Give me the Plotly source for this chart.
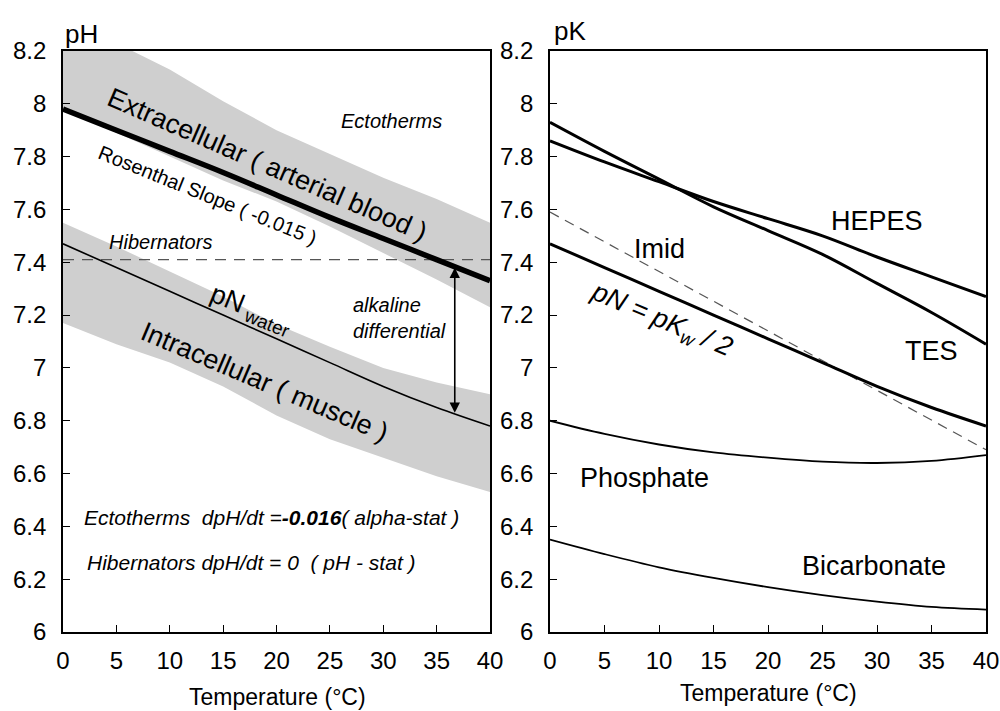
import plotly.graph_objects as go

# ---------------- data ----------------
temp = [0, 5, 10, 15, 20, 25, 30, 35, 40]

# left panel (pH)
extra_upper = [8.34, 8.23, 8.13, 8.01, 7.90, 7.81, 7.72, 7.64, 7.55]
extra_lower = [7.98, 7.89, 7.80, 7.71, 7.63, 7.535, 7.435, 7.335, 7.23]
rosenthal = [7.98, 7.90, 7.82, 7.74, 7.655, 7.57, 7.49, 7.41, 7.33]
intra_upper = [7.55, 7.46, 7.365, 7.27, 7.165, 7.08, 7.00, 6.945, 6.90]
intra_lower = [7.17, 7.09, 7.02, 6.93, 6.82, 6.73, 6.66, 6.59, 6.53]
pn_water = [7.47, 7.38, 7.29, 7.20, 7.11, 7.02, 6.93, 6.85, 6.78]
hib_x = [0, 40]
hib_ph = [7.41, 7.41]
arrow_t = 36.7
arrow_top = 7.385
arrow_bottom = 6.83

# right panel (pK)
hepes = [7.86, 7.78, 7.705, 7.63, 7.565, 7.50, 7.42, 7.345, 7.27]
tes = [7.93, 7.82, 7.715, 7.61, 7.52, 7.43, 7.32, 7.21, 7.09]
imid_x = [0, 40]
imid = [7.59, 6.69]
pn_kw = [7.47, 7.38, 7.29, 7.20, 7.11, 7.02, 6.93, 6.85, 6.78]
phosphate = [6.80, 6.75, 6.71, 6.68, 6.66, 6.645, 6.64, 6.648, 6.67]
bicarbonate = [6.35, 6.295, 6.245, 6.205, 6.17, 6.14, 6.115, 6.095, 6.085]

x_ticks = [0, 5, 10, 15, 20, 25, 30, 35, 40]
x_tick_text = ["0", "5", "10", "15", "20", "25", "30", "35", "40"]
y_ticks = [6, 6.2, 6.4, 6.6, 6.8, 7, 7.2, 7.4, 7.6, 7.8, 8, 8.2]
y_tick_text = ["6", "6.2", "6.4", "6.6", "6.8", "7", "7.2", "7.4", "7.6", "7.8", "8", "8.2"]

FONT = "Liberation Sans, Arial, Helvetica, sans-serif"
BAND = "#cfcfcf"

fig = go.Figure()

def band(upper, lower, xa, ya):
    fig.add_trace(go.Scatter(
        x=temp + temp[::-1], y=upper + lower[::-1], fill="toself",
        fillcolor=BAND, line=dict(width=0), mode="lines",
        xaxis=xa, yaxis=ya, hoverinfo="skip"))

def line(x, y, xa, ya, width, color="black", dash="solid", shape="spline"):
    fig.add_trace(go.Scatter(
        x=x, y=y, mode="lines", line=dict(color=color, width=width, dash=dash, shape=shape),
        xaxis=xa, yaxis=ya, hoverinfo="skip"))

# left panel
band(extra_upper, extra_lower, "x", "y")
band(intra_upper, intra_lower, "x", "y")
line(hib_x, hib_ph, "x", "y", 1.2, color="#555555", dash="11px,8px", shape="linear")
line(temp, rosenthal, "x", "y", 5.5)
line(temp, pn_water, "x", "y", 1.6)

# right panel
line(imid_x, imid, "x2", "y2", 1.2, color="#555555", dash="10px,7px", shape="linear")
line(temp, hepes, "x2", "y2", 3)
line(temp, tes, "x2", "y2", 3)
line(temp, pn_kw, "x2", "y2", 3)
line(temp, phosphate, "x2", "y2", 1.8)
line(temp, bicarbonate, "x2", "y2", 1.8)

ann = []

def text(t, x, y, size, xref="x", yref="y", angle=0, xanchor="center", align="center"):
    ann.append(dict(text=t, x=x, y=y, xref=xref, yref=yref, showarrow=False,
                    textangle=angle, xanchor=xanchor, yanchor="middle", align=align,
                    font=dict(family=FONT, size=size, color="black")))

# left labels
text("Extracellular ( arterial blood )", 19.2, 7.77, 27, angle=23.5)
text("Rosenthal Slope ( -0.015 )", 13.5, 7.655, 20, angle=22)
text("<i>Ectotherms</i>", 30.8, 7.934, 20)
text("<i>Hibernators</i>", 9.1, 7.475, 20)
text("pN<sub> water</sub>", 17.6, 7.22, 27, angle=22)
text("Intracellular ( muscle )", 18.9, 6.948, 27, angle=23)
text("<i>alkaline<br>differential</i>", 27.0, 7.19, 20, xanchor="left", align="left")
text("<i>Ectotherms  dpH/dt =<b>-0.016</b>( alpha-stat )</i>", 1.78, 6.432, 21, xanchor="left")
text("<i>Hibernators dpH/dt = 0  ( pH - stat )</i>", 2.06, 6.265, 21, xanchor="left")

# right labels
text("HEPES", 30.0, 7.558, 27, xref="x2", yref="y2")
text("Imid", 10.07, 7.451, 27, xref="x2", yref="y2")
text("TES", 34.97, 7.063, 27, xref="x2", yref="y2")
text("<i>pN = pK<sub>w</sub> / 2</i>", 10.25, 7.177, 27, xref="x2", yref="y2", angle=23)
text("Phosphate", 8.7, 6.583, 27, xref="x2", yref="y2")
text("Bicarbonate", 29.75, 6.251, 27, xref="x2", yref="y2")

# panel titles and axis titles
text("pH", 0.063, 0.952, 26, xref="paper", yref="paper", xanchor="left")
text("pK", 0.552, 0.956, 26, xref="paper", yref="paper", xanchor="left")
text("Temperature (°C)", 0.277, 0.0197, 23, xref="paper", yref="paper")
text("Temperature (°C)", 0.768, 0.0253, 23, xref="paper", yref="paper")

# alkaline differential double arrow
ann.append(dict(x=arrow_t, y=arrow_bottom, ax=arrow_t, ay=arrow_top, xref="x", yref="y",
                axref="x", ayref="y", showarrow=True, arrowhead=2, startarrowhead=2,
                arrowside="end+start", arrowsize=1.3, arrowwidth=1.6, arrowcolor="black",
                standoff=0, startstandoff=0, text=""))

axis_common = dict(showline=True, linecolor="black", linewidth=1.8, mirror=True,
                   ticks="inside", ticklen=7, tickwidth=1.2, tickcolor="black",
                   showgrid=False, zeroline=False, automargin=False,
                   ticklabeloverflow="allow",
                   tickfont=dict(family=FONT, size=24, color="black"))

fig.update_layout(
    width=1000, height=711, margin=dict(l=0, r=0, t=0, b=0, autoexpand=False),
    paper_bgcolor="white", plot_bgcolor="white", showlegend=False,
    xaxis=dict(domain=[0.063, 0.49], range=[0, 40], tickvals=x_ticks, ticktext=x_tick_text,
               anchor="y", ticklabelstandoff=6, **axis_common),
    yaxis=dict(domain=[0.1111, 0.9283], range=[6, 8.2], tickvals=y_ticks, ticktext=y_tick_text,
               anchor="x", ticklabelstandoff=10, **axis_common),
    xaxis2=dict(domain=[0.55, 0.986], range=[0, 40], tickvals=x_ticks, ticktext=x_tick_text,
                anchor="y2", ticklabelstandoff=6, **axis_common),
    yaxis2=dict(domain=[0.1111, 0.9283], range=[6, 8.2], tickvals=y_ticks, ticktext=y_tick_text,
                anchor="x2", ticklabelstandoff=10, **axis_common),
    annotations=ann,
)

fig.write_html("out.html")
